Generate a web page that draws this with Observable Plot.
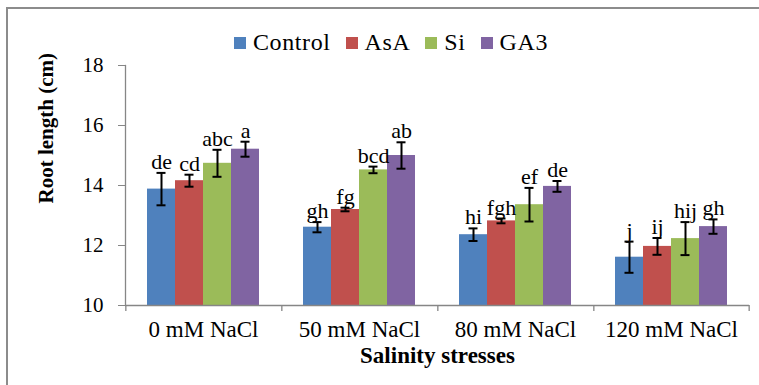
<!DOCTYPE html>
<html><head><meta charset="utf-8">
<script src="https://cdn.jsdelivr.net/npm/d3@7"></script>
<script src="https://cdn.jsdelivr.net/npm/@observablehq/plot@0.6"></script>
<style>
body{margin:0;background:#fff;}
#wrap{position:relative;width:759px;height:385px;overflow:hidden;background:#fff;}
#wrap, #wrap *, #wrap svg text{font-family:"Liberation Serif","Times New Roman",serif !important;}
#border{position:absolute;left:6px;top:7px;width:820px;height:420px;border:2px solid #8c8c8c;box-sizing:border-box;}
#legend{position:absolute;left:234px;top:26px;}
#legend .lg-swatch{margin-right:15px !important;letter-spacing:0.6px;}
#legend .lg-swatch > svg{margin-right:7px !important;}
#chart{position:absolute;left:0;top:56px;}
#chart svg{display:block;overflow:visible;}
</style></head><body>
<div id="wrap"><div id="border"></div><div id="legend"></div><div id="chart"></div></div>
<script>
const categories = ["0 mM NaCl", "50 mM NaCl", "80 mM NaCl", "120 mM NaCl"];
const treatments = ["Control", "AsA", "Si", "GA3"];
const colors = ["#4F81BD", "#C0504D", "#9BBB59", "#8064A2"];
const yTicks = [10, 12, 14, 16, 18];
const xTitle = "Salinity stresses";
const yTitle = "Root length (cm)";

const controlValues = [13.88, 12.61, 12.36, 11.61];
const asaValues     = [14.16, 13.20, 12.82, 11.97];
const siValues      = [14.74, 14.52, 13.36, 12.23];
const ga3Values     = [15.21, 15.00, 13.97, 12.63];

const controlErr = [0.54, 0.17, 0.21, 0.52];
const asaErr     = [0.20, 0.06, 0.08, 0.28];
const siErr      = [0.45, 0.11, 0.56, 0.55];
const ga3Err     = [0.25, 0.44, 0.18, 0.24];

const controlLetters = ["de", "gh", "hi", "j"];
const asaLetters     = ["cd", "fg", "fgh", "ij"];
const siLetters      = ["abc", "bcd", "ef", "hij"];
const ga3Letters     = ["a", "ab", "de", "gh"];

const series = [
  [controlValues, controlErr, controlLetters],
  [asaValues, asaErr, asaLetters],
  [siValues, siErr, siLetters],
  [ga3Values, ga3Err, ga3Letters]
];
const data = [];
categories.forEach((c, i) => treatments.forEach((t, j) => {
  const [v, e, l] = series[j];
  data.push({category: c, treatment: t, value: v[i], err: e[i], letter: l[i]});
}));

// layout constants
const W = 759, H = 329, mL = 124, mR = 10, mT = 9, mB = 80;
const padOuterX = 0.76;
const step = (W - mL - mR) / categories.length;
const stepX = step / (treatments.length + 2 * padOuterX);
const edgeOffset = stepX / 2 + stepX * padOuterX;
const tickLen = 0.2; // category tick length below the baseline, in y units
const leftEdges = categories.map(c => ({category: c, treatment: treatments[0]}));
const rightEdge = [{category: categories[categories.length - 1], treatment: treatments[treatments.length - 1]}];

const font = "'Liberation Serif', 'Times New Roman', serif";
const gray = "#868686";

const chart = Plot.plot({
  width: W, height: H,
  marginLeft: mL, marginRight: mR, marginTop: mT, marginBottom: mB,
  style: {fontFamily: font, fontSize: "20px", color: "#000", background: "transparent", overflow: "visible"},
  fx: {domain: categories, paddingInner: 0, paddingOuter: 0, label: null},
  x: {domain: treatments, paddingInner: 0, paddingOuter: padOuterX, axis: null},
  y: {domain: [yTicks[0], yTicks[yTicks.length - 1]]},
  color: {domain: treatments, range: colors},
  marks: [
    Plot.barY(data, {fx: "category", x: "treatment", y1: yTicks[0], y2: "value", fill: "treatment"}),
    Plot.ruleX(data, {fx: "category", x: "treatment", y1: d => d.value - d.err, y2: d => d.value + d.err, stroke: "#000", strokeWidth: 2}),
    Plot.tickY(data, {fx: "category", x: "treatment", y: d => d.value - d.err, stroke: "#000", strokeWidth: 2, insetLeft: 9.5, insetRight: 9.5}),
    Plot.tickY(data, {fx: "category", x: "treatment", y: d => d.value + d.err, stroke: "#000", strokeWidth: 2, insetLeft: 9.5, insetRight: 9.5}),
    Plot.text(data, {fx: "category", x: "treatment", y: d => d.value + d.err, text: "letter", dy: -4, lineAnchor: "bottom", fontSize: 22, fill: "#000", fontFamily: font, letterSpacing: "1px"}),
    Plot.ruleY([yTicks[0]], {stroke: gray, strokeWidth: 1.3}),
    Plot.frame({anchor: "left", facetAnchor: "left", stroke: gray, strokeWidth: 1.3}),
    Plot.ruleX(leftEdges, {fx: "category", x: "treatment", y1: yTicks[0], y2: yTicks[0] - tickLen, dx: -edgeOffset, stroke: gray, strokeWidth: 1.3}),
    Plot.ruleX(rightEdge, {fx: "category", x: "treatment", y1: yTicks[0], y2: yTicks[0] - tickLen, dx: edgeOffset, stroke: gray, strokeWidth: 1.3}),
    Plot.axisY({ticks: yTicks, tickSize: 7, tickPadding: 15, stroke: gray, fill: "#000", fontSize: 21, fontFamily: font, letterSpacing: "1px", label: null}),
    Plot.axisFx({anchor: "bottom", tickSize: 0, tickPadding: 15, fontSize: 23, fill: "#000", fontFamily: font, letterSpacing: "0.9px", label: null}),
    Plot.text([xTitle], {facet: "super", frameAnchor: "bottom", dy: 50, fontWeight: "bold", fontSize: 23, fill: "#000", fontFamily: font, letterSpacing: "0.7px", lineAnchor: "middle"}),
    Plot.text([yTitle], {facet: "super", frameAnchor: "left", dx: -79, dy: 18, rotate: -90, fontWeight: "bold", fontSize: 21, fill: "#000", fontFamily: font})
  ]
});
document.getElementById("chart").append(chart);

const legend = Plot.legend({
  color: {domain: treatments, range: colors},
  legend: "swatches",
  swatchSize: 12,
  className: "lg",
  style: {fontFamily: font, fontSize: "24px", color: "#000"}
});
document.getElementById("legend").append(legend);
</script>
</body></html>
